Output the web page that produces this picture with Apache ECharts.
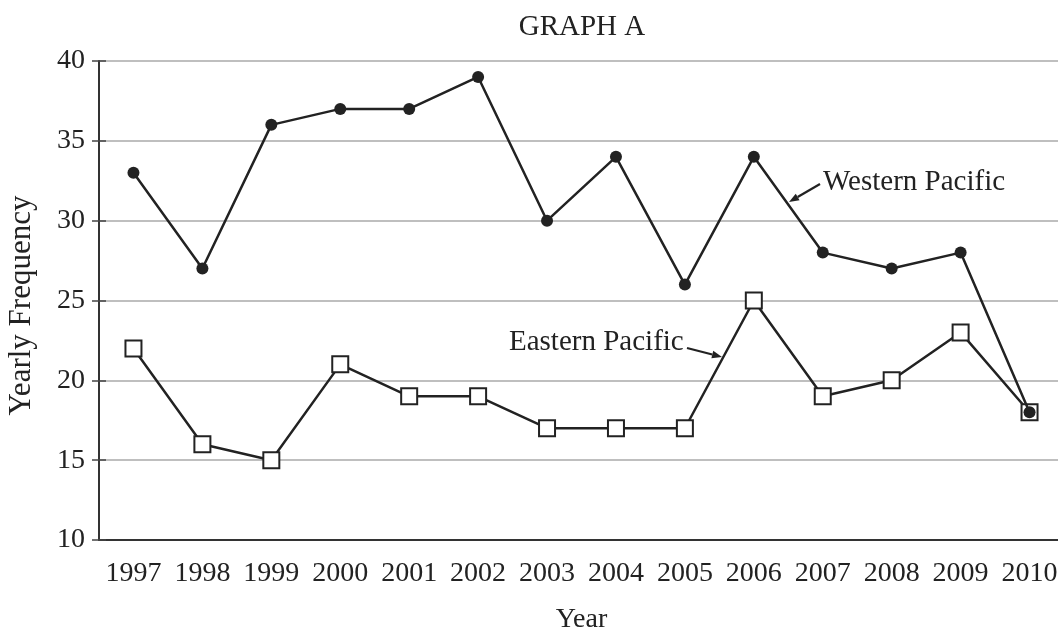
<!DOCTYPE html>
<html>
<head>
<meta charset="utf-8">
<script src="https://cdn.jsdelivr.net/npm/echarts@6/dist/echarts.min.js"></script>
<style>html,body{margin:0;padding:0;background:#fff}#c{width:1058px;height:635px}</style>
</head>
<body>
<div id="c"></div>
<script>
const years = ['1997','1998','1999','2000','2001','2002','2003','2004','2005','2006','2007','2008','2009','2010'];
const western = [33,27,36,37,37,39,30,34,26,34,28,27,28,18];
const eastern = [22,16,15,21,19,19,17,17,17,25,19,20,23,18];
const yMin = 10, yMax = 40, yStep = 5;
const titleText = 'GRAPH A';
const xName = 'Year';
const yName = 'Yearly Frequency';
const westLabel = 'Western Pacific';
const eastLabel = 'Eastern Pacific';

const FONT = '"Liberation Serif", "Times New Roman", serif';
const INK = '#222';

function arrow(x1, y1, x2, y2) {
  const dx = x2 - x1, dy = y2 - y1, L = Math.hypot(dx, dy);
  const ux = dx / L, uy = dy / L, nx = -uy, ny = ux;
  const bx = x2 - 10 * ux, by = y2 - 10 * uy;
  return [
    {type:'line', shape:{x1:x1, y1:y1, x2:bx, y2:by}, style:{stroke:INK, lineWidth:2.2}},
    {type:'polygon', shape:{points:[[x2,y2],[bx+3.8*nx,by+3.8*ny],[bx-3.8*nx,by-3.8*ny]]}, style:{fill:INK}}
  ];
}

const chart = echarts.init(document.getElementById('c'), null, {renderer:'canvas'});
chart.setOption({
  animation: false,
  backgroundColor: '#fff',
  title: {
    text: titleText, left: 577, top: 8, textAlign: 'center',
    textStyle: {fontFamily: FONT, fontWeight: 'normal', fontSize: 29, color: INK}
  },
  grid: {left: 99, width: 965, top: 61, bottom: 95, containLabel: false, outerBoundsMode: 'none'},
  xAxis: [{
    type: 'category', data: years, boundaryGap: true,
    name: xName, nameLocation: 'middle', nameGap: 66,
    nameTextStyle: {fontFamily: FONT, fontSize: 28, color: INK},
    axisLine: {lineStyle: {color: '#333', width: 2}},
    axisTick: {alignWithLabel: true, interval: 0, length: 7, lineStyle: {color: '#444', width: 1.5}},
    axisLabel: {fontFamily: FONT, fontSize: 28, color: INK, margin: 20, interval: 0},
    splitLine: {show: false}
  }, {
    type: 'category', data: years, boundaryGap: true, position: 'bottom',
    axisLine: {show: false},
    axisTick: {alignWithLabel: true, interval: 0, inside: true, length: 7, lineStyle: {color: '#444', width: 1.5}},
    axisLabel: {show: false}, splitLine: {show: false}
  }],
  yAxis: [{
    type: 'value', min: yMin, max: yMax, interval: yStep,
    name: yName, nameLocation: 'middle', nameGap: 62,
    nameTextStyle: {fontFamily: FONT, fontSize: 31, color: INK, padding: [0, 10, 0, 0]},
    axisLine: {show: true, lineStyle: {color: '#333', width: 2}},
    axisTick: {show: true, length: 7, lineStyle: {color: '#444', width: 1.5}},
    axisLabel: {fontFamily: FONT, fontSize: 28, color: INK, margin: 14},
    splitLine: {show: true, lineStyle: {color: '#aaa', width: 1.5}}
  }, {
    type: 'value', min: yMin, max: yMax, interval: yStep, position: 'left',
    axisLine: {show: false},
    axisTick: {show: true, inside: true, length: 7, lineStyle: {color: '#444', width: 1.5}},
    axisLabel: {show: false}, splitLine: {show: false}
  }],
  series: [{
    name: eastLabel, type: 'line', data: eastern, z: 3,
    symbol: 'rect', symbolSize: 16,
    lineStyle: {color: INK, width: 2.5},
    itemStyle: {color: '#fff', borderColor: INK, borderWidth: 2}
  }, {
    name: westLabel, type: 'line', data: western, z: 4,
    symbol: 'circle', symbolSize: 12,
    lineStyle: {color: INK, width: 2.5},
    itemStyle: {color: INK, borderWidth: 0}
  }],
  graphic: [
    {type:'text', style:{text: westLabel, x: 823, y: 182, align:'left', verticalAlign:'middle', font: '29px ' + FONT, fill: INK}},
    {type:'text', style:{text: eastLabel, x: 509, y: 342, align:'left', verticalAlign:'middle', font: '29px ' + FONT, fill: INK}},
    ...arrow(820, 184, 789, 202),
    ...arrow(687, 348, 722, 357)
  ]
});
</script>
</body>
</html>
